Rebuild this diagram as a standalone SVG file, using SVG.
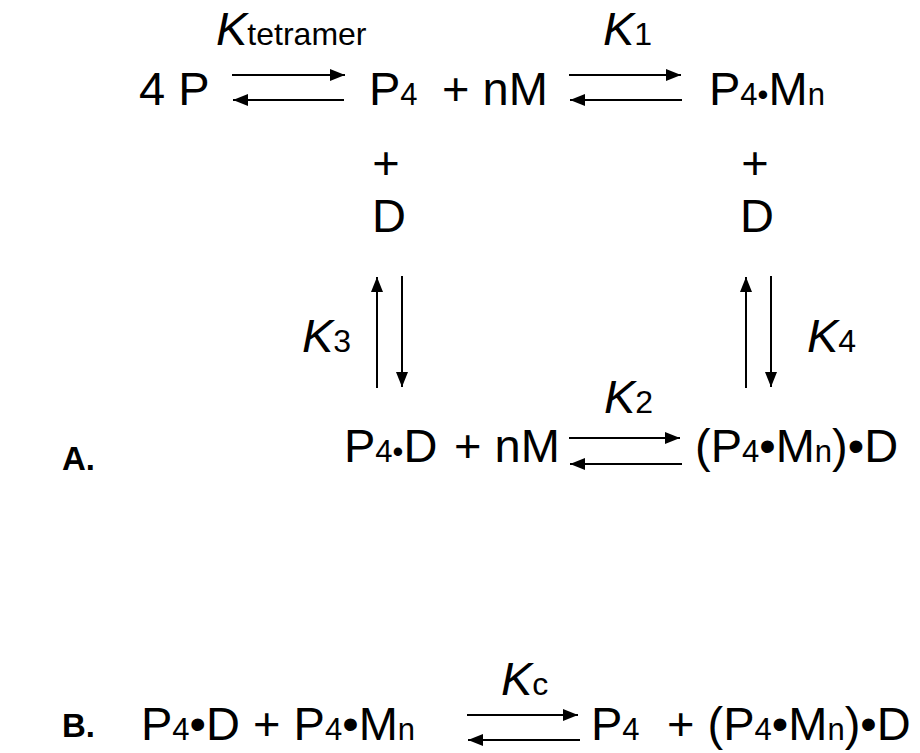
<svg xmlns="http://www.w3.org/2000/svg" width="920" height="753" viewBox="0 0 920 753">
<style>
text{font-family:"Liberation Sans",Arial,sans-serif;fill:#000;}
.m{font-size:47px;}
.s{font-size:31px;}
.k{font-size:47px;font-style:italic;}
.ks{font-size:32px;font-style:normal;}
.lab{font-size:33px;font-weight:bold;}
.ar{stroke:#000;stroke-width:2;fill:none;marker-end:url(#ah);}
</style>
<defs>
<marker id="ah" viewBox="0 0 15 12" refX="15" refY="6" markerWidth="15" markerHeight="12" markerUnits="userSpaceOnUse" orient="auto">
<path d="M0,0 L15,6 L0,12 z" fill="#000"/>
</marker>
</defs>
<rect width="920" height="753" fill="#fff"/>
<g id="n-4P"><text class="m" x="139" y="105">4 P</text></g>
<g id="n-P4"><text class="m" x="369" y="105">P<tspan class="s">4</tspan></text></g>
<g id="n-nM1"><text class="m" x="442" y="105">+ nM</text></g>
<g id="n-P4Mn"><text class="m" x="709" y="105">P<tspan class="s">4</tspan><tspan class="s">•</tspan>M<tspan class="s">n</tspan></text></g>
<g id="n-D1"><text class="m" x="386" y="179" text-anchor="middle">+</text><text class="m" x="389" y="232" text-anchor="middle">D</text></g>
<g id="n-D2"><text class="m" x="755" y="179" text-anchor="middle">+</text><text class="m" x="757" y="232" text-anchor="middle">D</text></g>
<g id="n-P4D"><text class="m" x="344" y="462">P<tspan class="s">4</tspan><tspan class="s">•</tspan>D</text></g>
<g id="n-nM2"><text class="m" x="454" y="462">+ nM</text></g>
<g id="n-P4MnD"><text class="m" x="695" y="462">(P<tspan class="s">4</tspan>•M<tspan class="s">n</tspan>)•D</text></g>
<g id="lab-A"><text class="lab" x="62" y="470">A.</text></g>
<g id="lab-B"><text class="lab" x="62" y="737">B.</text></g>
<g id="n-B-left"><text class="m" x="141" y="740">P<tspan class="s">4</tspan>•D + P<tspan class="s">4</tspan>•M<tspan class="s">n</tspan></text></g>
<g id="n-B-right"><text class="m" x="591" y="740">P<tspan class="s">4</tspan></text><text class="m" x="667" y="740">+ (P<tspan class="s">4</tspan>•M<tspan class="s">n</tspan>)•D</text></g>
<g id="connectors">
<line class="ar" x1="232" y1="75" x2="345" y2="75"/>
<line class="ar" x1="344" y1="100" x2="233" y2="100"/>
<line class="ar" x1="569" y1="75" x2="681" y2="75"/>
<line class="ar" x1="682" y1="100" x2="570" y2="100"/>
<line class="ar" x1="377" y1="388" x2="377" y2="277"/>
<line class="ar" x1="402" y1="276" x2="402" y2="387"/>
<line class="ar" x1="746" y1="388" x2="746" y2="277"/>
<line class="ar" x1="771" y1="276" x2="771" y2="387"/>
<line class="ar" x1="569" y1="438" x2="680" y2="438"/>
<line class="ar" x1="682" y1="464" x2="570" y2="464"/>
<line class="ar" x1="467" y1="715" x2="578" y2="715"/>
<line class="ar" x1="580" y1="740" x2="468" y2="740"/>
</g>
<g id="labels">
<text class="k" x="216" y="45">K<tspan class="ks">tetramer</tspan></text>
<text class="k" x="603" y="45">K<tspan class="ks">1</tspan></text>
<text class="k" x="302" y="352">K<tspan class="ks">3</tspan></text>
<text class="k" x="807" y="352">K<tspan class="ks">4</tspan></text>
<text class="k" x="604" y="413">K<tspan class="ks">2</tspan></text>
<text class="k" x="501" y="695">K<tspan class="ks">c</tspan></text>
</g>
</svg>
